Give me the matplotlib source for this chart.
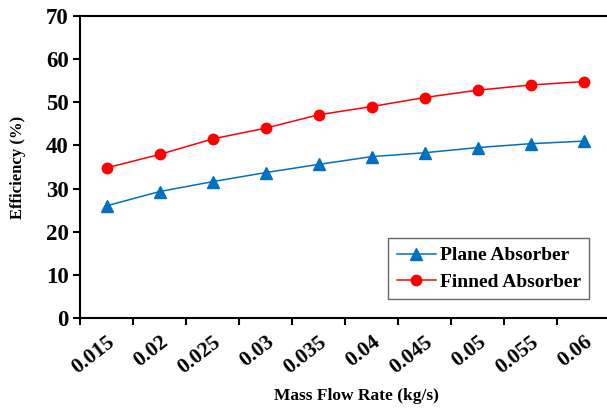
import matplotlib
matplotlib.use("Agg")
import matplotlib.pyplot as plt
import numpy as np

categories = ["0.015", "0.02", "0.025", "0.03", "0.035", "0.04", "0.045", "0.05", "0.055", "0.06"]
plane = [26.0, 29.3, 31.6, 33.7, 35.6, 37.4, 38.3, 39.5, 40.4, 41.0]
finned = [34.8, 37.9, 41.5, 44.0, 47.1, 49.0, 51.1, 52.8, 54.0, 54.8]
yticks = [0, 10, 20, 30, 40, 50, 60, 70]

plt.rcParams['font.family'] = ['Liberation Serif', 'DejaVu Serif']
plt.rcParams['font.weight'] = 'bold'

fig = plt.figure(figsize=(6.07, 4.08), dpi=100)
ax = fig.add_axes([80/607, 1-318/408, (610-80)/607, (318-16)/408])

x = np.arange(len(categories))
ax.plot(x, plane, color='#0070C0', lw=1.1, marker='^', markersize=8.5, label='Plane Absorber')
ax.plot(x, finned, color='#FF0000', lw=1.1, marker='o', markersize=7.5, label='Finned Absorber')

ax.set_xlim(-0.5, len(categories) - 0.5)
ax.set_ylim(0, 70)
ax.set_yticks(yticks)
ax.set_yticklabels([str(v) for v in yticks], fontsize=16.5, fontweight='bold')

ax.set_xticks(np.arange(len(categories) + 1) - 0.5)
ax.set_xticklabels([])
ax.set_xticks(x, minor=True)
ax.set_xticklabels(categories, minor=True, rotation=38, ha='right', rotation_mode='anchor',
                   fontsize=15.5, fontweight='bold')
ax.tick_params(axis='x', which='minor', length=0, pad=10)
ax.tick_params(axis='both', which='major', direction='out', length=5, width=1.5, color='black')
ax.tick_params(axis='y', pad=3)

for s in ['left', 'bottom', 'top', 'right']:
    ax.spines[s].set_linewidth(1.5)
    ax.spines[s].set_color('black')

ax.set_ylabel('Efficiency (%)', fontsize=12, fontweight='bold')
ax.yaxis.set_label_coords((26 - 80) / 530, 0.5)
fig.text(356/607, 1-396/408, 'Mass Flow Rate (kg/s)', fontsize=12.5, fontweight='bold',
         ha='center', va='center')

leg = ax.legend(loc='upper left', bbox_to_anchor=(388/607, 1-238/408), bbox_transform=fig.transFigure,
                frameon=True, fancybox=False, fontsize=14, handlelength=2.0, handletextpad=0.2,
                borderpad=0.45, labelspacing=0.45, borderaxespad=0)
leg.get_frame().set_edgecolor('#404040')
leg.get_frame().set_linewidth(1.0)
for t in leg.get_texts():
    t.set_fontweight('bold')

fig.savefig('out.png', dpi=100)
